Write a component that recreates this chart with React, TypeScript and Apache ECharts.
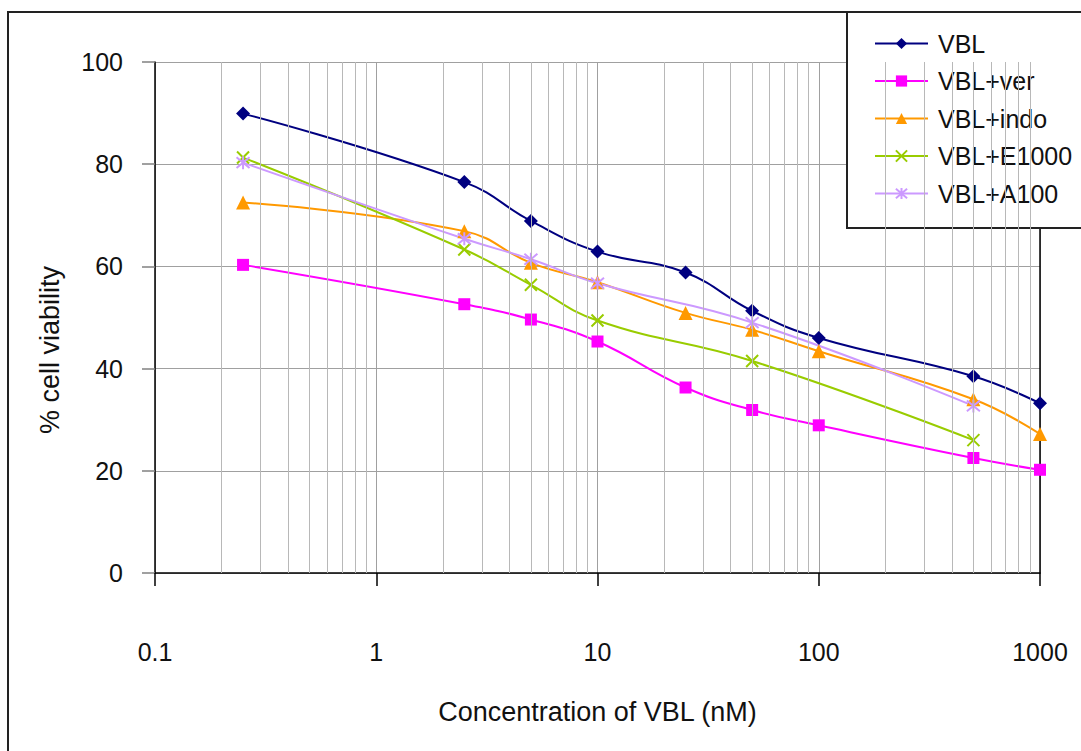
import React, { useEffect, useRef } from "react";
import * as echarts from "echarts";

// ---- Data ----
const CONC_FULL = [0.25, 2.5, 5, 10, 25, 50, 100, 500, 1000];
const CONC_PARTIAL = [0.25, 2.5, 5, 10, 50, 500];

const VBL = [89.9, 76.5, 68.9, 62.9, 58.8, 51.3, 46.0, 38.5, 33.2];
const VBL_VER = [60.3, 52.6, 49.6, 45.3, 36.3, 31.9, 28.9, 22.5, 20.2];
const VBL_INDO = [72.5, 66.9, 60.7, 56.9, 50.9, 47.6, 43.4, 34.0, 27.2];
const VBL_E1000 = [81.3, 63.3, 56.4, 49.4, 41.5, 26.0];
const VBL_A100 = [80.3, 65.4, 61.4, 56.7, 49.0, 32.7];

const SERIES_NAMES = ["VBL", "VBL+ver", "VBL+indo", "VBL+E1000", "VBL+A100"];
const Y_TICKS = [0, 20, 40, 60, 80, 100];
const X_TICK_LABELS = ["0.1", "1", "10", "100", "1000"];
const MINOR_GRID_X = [
  0.2, 0.3, 0.4, 0.5, 0.6, 0.7, 0.8, 0.9,
  2, 3, 4, 5, 6, 7, 8, 9,
  20, 30, 40, 50, 60, 70, 80, 90,
  200, 300, 400, 500, 600, 700, 800, 900,
];

const FONT = "'Liberation Sans', Arial, sans-serif";
const TEXT_COLOR = "#111";

const pair = (xs: number[], ys: number[]) => xs.map((x, i) => [x, ys[i]]);

const CROSS = "path://M0,0L10,10M10,0L0,10";
const STAR = "path://M0,0L10,10M10,0L0,10M5,-1L5,11";

export default function App() {
  const ref = useRef<HTMLDivElement>(null);

  useEffect(() => {
    if (!ref.current) return;
    const chart = echarts.init(ref.current, undefined, { renderer: "svg" });

    const lineSeries = (
      name: string,
      data: number[][],
      color: string,
      symbol: string,
      symbolSize: number,
      strokeMarker = false
    ) => ({
      name,
      type: "line",
      data,
      smooth: 0.45,
      symbol,
      symbolSize,
      showAllSymbol: true,
      z: 3,
      lineStyle: { color, width: 2 },
      itemStyle: strokeMarker
        ? { color: "rgba(0,0,0,0)", borderColor: color, borderWidth: 2 }
        : { color, borderWidth: 0 },
      emphasis: { disabled: true },
    });

    const option: any = {
      animation: false,
      textStyle: { fontFamily: FONT },
      grid: { left: 155, right: 41, top: 62, bottom: 178, containLabel: false },
      legend: {
        orient: "vertical",
        left: 874,
        top: 31,
        padding: 0,
        data: SERIES_NAMES,
        itemWidth: 53,
        itemHeight: 14,
        itemGap: 12.5,
        z: 5,
        selectedMode: false,
        textStyle: {
          fontSize: 25,
          color: TEXT_COLOR,
          fontFamily: FONT,
          padding: [0, 0, 0, 5],
        },
      },
      xAxis: {
        type: "log",
        logBase: 10,
        min: 0.1,
        max: 1000,
        name: "Concentration of VBL (nM)",
        nameLocation: "middle",
        nameGap: 125,
        nameTextStyle: { fontSize: 27, color: TEXT_COLOR, fontFamily: FONT },
        axisLine: { show: true, lineStyle: { color: "#000", width: 1.5 } },
        axisTick: { show: true, inside: false, length: 13, lineStyle: { color: "#000", width: 1.5 } },
        axisLabel: {
          margin: 66,
          fontSize: 25,
          color: TEXT_COLOR,
          fontFamily: FONT,
          formatter: (v: number) => {
            const s = String(parseFloat(v.toPrecision(3)));
            return X_TICK_LABELS.includes(s) ? s : "";
          },
        },
        splitLine: { show: true, lineStyle: { color: "#a0a0a0", width: 1 } },
      },
      yAxis: [
        {
          type: "value",
          min: Y_TICKS[0],
          max: Y_TICKS[Y_TICKS.length - 1],
          interval: 20,
          axisLine: { show: true, lineStyle: { color: "#000", width: 1.5 } },
          axisTick: { show: true, inside: false, length: 13, lineStyle: { color: "#808080", width: 1.5 } },
          axisLabel: { margin: 32, fontSize: 25, color: TEXT_COLOR, fontFamily: FONT },
          splitLine: { show: true, lineStyle: { color: "#a0a0a0", width: 1 } },
        },
        {
          type: "value",
          position: "right",
          min: 0,
          max: 100,
          interval: 20,
          axisLine: { show: true, lineStyle: { color: "#000", width: 1.5 } },
          axisTick: { show: false },
          axisLabel: { show: false },
          splitLine: { show: false },
        },
      ],
      series: [
        {
          name: "minor-grid",
          type: "line",
          data: [],
          z: 1,
          silent: true,
          markLine: {
            silent: true,
            symbol: ["none", "none"],
            label: { show: false },
            lineStyle: { color: "#b8b8b8", type: "solid", width: 1 },
            emphasis: { disabled: true },
            data: MINOR_GRID_X.map((x) => ({ xAxis: x })),
          },
        },
        lineSeries("VBL", pair(CONC_FULL, VBL), "#000080", "diamond", 14),
        lineSeries("VBL+ver", pair(CONC_FULL, VBL_VER), "#ff00ff", "rect", 12),
        lineSeries("VBL+indo", pair(CONC_FULL, VBL_INDO), "#ff9900", "triangle", 14),
        lineSeries("VBL+E1000", pair(CONC_PARTIAL, VBL_E1000), "#99cc00", CROSS, 12, true),
        lineSeries("VBL+A100", pair(CONC_PARTIAL, VBL_A100), "#cc99ff", STAR, 13, true),
      ],
      graphic: [
        {
          type: "rect",
          z: 0,
          silent: true,
          shape: { x: 8, y: 12, width: 1300, height: 1000 },
          style: { fill: "none", stroke: "#222", lineWidth: 2 },
        },
        {
          type: "rect",
          z: 4,
          silent: true,
          shape: { x: 847, y: 12, width: 400, height: 216 },
          style: { fill: "#fff", stroke: "#222", lineWidth: 2 },
        },
        {
          type: "text",
          z: 4,
          silent: true,
          x: 50,
          y: 350,
          rotation: Math.PI / 2,
          style: {
            text: "% cell viability",
            font: `27px ${FONT}`,
            fill: TEXT_COLOR,
            align: "center",
            verticalAlign: "middle",
          },
        },
      ],
    };

    chart.setOption(option);
    return () => chart.dispose();
  }, []);

  return (
    <div
      ref={ref}
      style={{ position: "absolute", left: 0, top: 0, width: 1081, height: 751, background: "#fff" }}
    />
  );
}
